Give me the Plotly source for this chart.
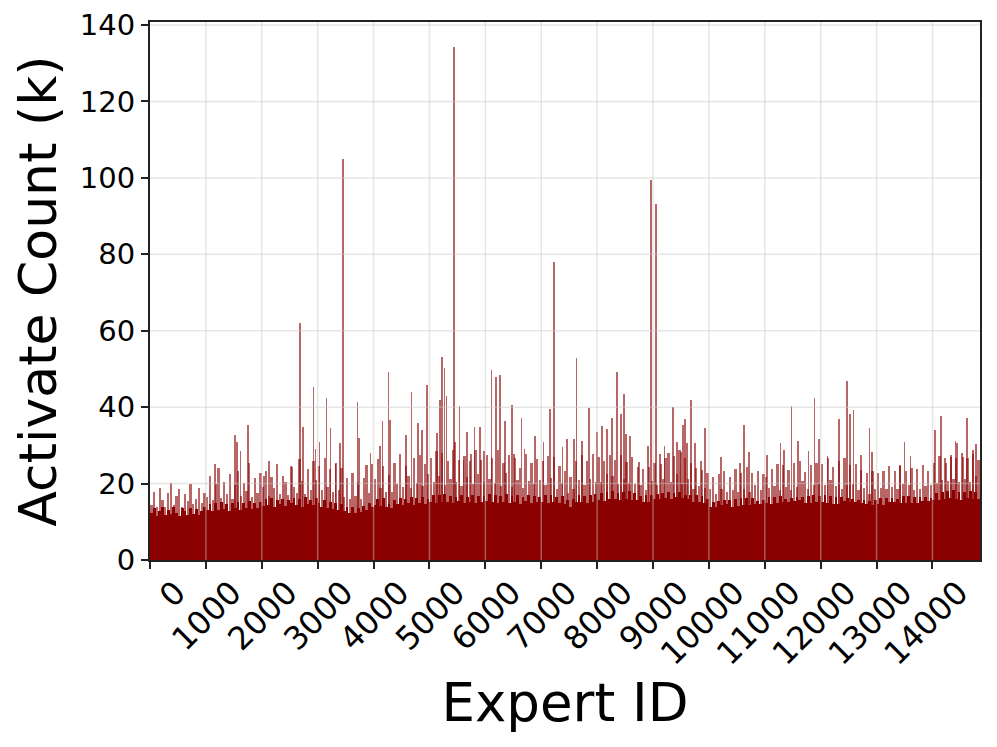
import plotly.graph_objects as go

# activation counts (k) per expert
# dense mass: 50-expert bins, solid level and light fringe top
bin_size = 50
n_experts = 14850

base_k = [
    12.3, 13.6, 11.5, 12.9, 14.0, 11.8, 13.2, 12.0, 13.9, 12.4, 11.6, 13.5, 12.8, 11.9, 13.7, 12.1, 13.4, 11.7, 12.9, 13.8,
    13.2, 14.6, 12.8, 14.9, 13.0, 15.3, 13.4, 14.6, 12.9, 15.0, 13.7, 15.2, 13.1, 14.8, 13.5, 15.4, 13.3, 14.9, 13.6, 15.1,
    14.1, 15.9, 14.4, 16.2, 13.9, 15.8, 14.6, 16.0, 14.2, 15.6, 14.8, 16.3, 14.5, 15.9, 14.0, 16.4, 14.7, 15.7, 14.3, 16.1,
    15.0, 13.9, 15.8, 13.6, 15.2, 13.4, 14.9, 13.1, 14.6, 12.7, 13.9, 12.4, 13.8, 12.2, 13.6, 12.5, 14.1, 13.2, 14.8, 13.9,
    14.4, 16.0, 14.1, 16.2, 13.8, 14.6, 13.6, 15.8, 14.6, 16.3, 14.5, 15.9, 14.8, 16.4, 14.3, 16.1, 14.9, 16.5, 14.7, 16.0,
    15.2, 16.9, 15.0, 17.1, 15.3, 17.2, 15.1, 16.8, 14.8, 16.6, 15.4, 16.9, 15.0, 16.5, 15.2, 17.0, 14.9, 16.8, 15.3, 16.7,
    15.4, 17.2, 15.1, 16.9, 14.8, 16.8, 15.2, 17.3, 14.9, 16.8, 15.3, 17.0, 14.7, 16.5, 15.4, 16.9, 15.0, 16.7, 15.1, 16.4,
    15.2, 16.9, 15.0, 17.1, 15.3, 16.5, 14.9, 16.8, 14.6, 15.8, 14.0, 15.9, 15.1, 17.0, 15.2, 16.8, 14.9, 16.9, 15.3, 17.2,
    15.7, 17.5, 15.5, 17.7, 15.9, 18.0, 15.9, 17.6, 15.6, 17.8, 16.0, 18.1, 15.8, 17.6, 15.6, 16.8, 15.1, 16.9, 15.3, 17.1,
    16.0, 17.4, 15.9, 17.6, 16.2, 17.9, 15.9, 17.5, 16.4, 17.8, 16.2, 17.0, 16.0, 16.9, 15.1, 16.9, 15.2, 16.8, 14.9, 15.9,
    13.9, 15.3, 14.0, 15.4, 14.4, 15.6, 14.6, 15.6, 13.8, 15.9, 14.2, 16.2, 14.4, 16.1, 14.3, 16.3, 14.6, 15.4, 14.7, 15.7,
    14.8, 16.5, 14.6, 16.6, 14.9, 16.8, 15.1, 16.0, 15.2, 16.3, 15.5, 16.5, 15.7, 16.6, 14.9, 16.7, 15.0, 17.0, 15.2, 16.8,
    15.2, 17.0, 14.9, 16.8, 14.7, 16.5, 14.6, 16.4, 15.5, 16.2, 15.3, 16.0, 15.1, 15.8, 14.9, 15.7, 14.7, 15.5, 14.5, 15.6,
    14.6, 16.3, 14.4, 16.2, 15.2, 16.1, 15.1, 16.0, 15.0, 16.8, 15.0, 16.7, 14.9, 16.6, 14.8, 16.5, 15.5, 16.4, 15.4, 16.3,
    15.6, 17.5, 15.8, 17.7, 15.9, 18.0, 16.2, 18.2, 16.0, 17.9, 15.8, 17.8, 16.1, 18.1, 15.9, 17.7, 16.0,
]

upper_k = [
    14.5, 17.8, 13.9, 18.9, 15.6, 13.8, 17.6, 20.1, 14.3, 16.7, 18.6, 14.0, 17.2, 15.4, 19.8, 14.6, 16.0, 18.9, 14.8, 17.5,
    16.5, 21.9, 15.8, 19.8, 24.0, 16.1, 20.3, 17.2, 22.6, 15.9, 19.5, 23.4, 16.8, 20.1, 18.0, 25.3, 16.4, 21.4, 17.6, 22.9,
    19.2, 23.4, 16.7, 21.8, 18.9, 25.1, 17.4, 22.0, 20.3, 16.9, 24.7, 19.1, 17.6, 26.4, 20.6, 17.3, 23.9, 18.2, 25.8, 20.9,
    24.6, 18.4, 26.8, 19.2, 23.9, 17.8, 25.5, 18.3, 24.1, 16.6, 21.4, 15.9, 22.8, 16.8, 20.4, 15.9, 21.5, 24.8, 17.6, 25.2,
    21.3, 26.5, 18.8, 24.6, 17.9, 22.2, 17.8, 25.4, 20.0, 27.7, 19.1, 24.6, 21.9, 18.9, 26.7, 20.2, 27.5, 19.4, 25.2, 22.5,
    26.8, 20.3, 28.4, 22.0, 27.9, 19.6, 25.8, 21.1, 28.9, 20.5, 26.2, 19.4, 27.3, 21.6, 25.8, 19.9, 28.7, 22.6, 26.1, 20.4,
    27.6, 21.1, 26.8, 20.2, 28.9, 19.4, 25.3, 22.8, 27.5, 19.0, 26.6, 21.0, 24.2, 18.9, 27.8, 20.6, 25.3, 19.8, 26.5, 20.9,
    25.8, 19.6, 27.2, 21.4, 26.9, 18.7, 24.5, 20.1, 23.3, 17.5, 21.8, 18.6, 26.0, 20.9, 27.4, 19.7, 25.9, 21.3, 27.7, 20.5,
    26.9, 20.4, 25.8, 22.6, 27.5, 21.9, 26.1, 19.8, 27.6, 21.2, 25.7, 20.2, 26.9, 19.8, 24.4, 19.6, 23.9, 18.3, 24.4, 20.7,
    25.4, 19.6, 27.8, 21.2, 26.6, 28.1, 20.5, 27.3, 22.4, 28.9, 20.0, 26.8, 21.1, 25.3, 18.7, 24.0, 19.4, 23.5, 18.8, 22.9,
    18.6, 21.8, 17.4, 22.5, 18.6, 23.3, 17.9, 21.8, 18.2, 23.9, 17.9, 22.8, 18.6, 24.4, 17.9, 22.9, 19.7, 23.4, 18.2, 22.5,
    21.6, 18.8, 23.9, 19.4, 25.1, 18.3, 24.9, 19.0, 23.6, 18.2, 25.5, 19.2, 26.0, 20.7, 23.1, 18.5, 24.8, 19.7, 25.4, 20.0,
    25.2, 19.6, 26.7, 20.9, 24.3, 19.4, 25.9, 18.6, 26.8, 19.5, 24.8, 20.0, 25.1, 18.4, 23.6, 18.9, 22.8, 17.3, 23.2, 18.6,
    22.8, 18.9, 23.4, 18.5, 24.6, 19.2, 23.3, 18.7, 24.8, 19.9, 23.4, 19.5, 24.0, 18.2, 23.9, 18.7, 24.8, 19.3, 23.4, 19.6,
    25.5, 20.2, 27.1, 21.0, 26.8, 20.6, 27.4, 21.2, 26.8, 20.5, 27.9, 21.2, 26.7, 20.5, 27.8, 21.9, 26.3,
]

# individual experts that stick out above the mass
spike_ids = [
    1160, 1516, 1560, 1620, 1755, 2040, 2125, 2545, 2685, 2733, 2924, 2960,
    3031, 3157, 3228, 3318, 3402, 3455, 3712, 3742, 3944,
    4112, 4159, 4267, 4297, 4583, 4678, 4798, 4864, 4953,
    5132, 5191, 5227, 5268, 5304, 5436, 5460, 5537, 5609, 5669, 5740, 5805, 5902, 5973,
    6110, 6193, 6260, 6349, 6474, 6516, 6647, 6701, 6886,
    7041, 7160, 7226, 7381, 7465, 7590, 7632, 7728, 7853, 7997,
    8086, 8176, 8271, 8355, 8432, 8474, 8516, 8581, 8742, 8903, 8963,
    9058, 9142, 9207, 9357, 9434, 9500, 9536, 9578, 9614, 9679, 9757, 9858, 9923,
    10209, 10556, 10634, 10718, 11034, 11279, 11345, 11476, 11589, 11780, 11887, 11976,
    12120, 12322, 12472, 12531, 12585, 12723, 12872, 12920,
    13414, 13498, 13606, 14047, 14154, 14237, 14334, 14410, 14441, 14549, 14621, 14728, 14782,
]
spike_k = [
    25, 32.7, 31, 28.5, 35.3, 22, 26, 24.4, 62, 34.8, 45.3, 29,
    31, 42.5, 34.6, 25, 30.6, 105, 41.3, 31.8, 28,
    29.8, 36.4, 49.2, 36.6, 32.8, 44, 35.9, 34.1, 45.8,
    33.2, 42, 53, 50.2, 42.8, 134.2, 31, 40.2, 26.2, 33.6, 27.7, 34.8, 34.8, 28.4,
    49.6, 47.8, 48.3, 36.4, 40.5, 27.7, 37.2, 29.1, 32.5,
    30.9, 39.5, 78, 29.5, 31.7, 31.7, 52.8, 31.2, 39.7, 33.5,
    35.1, 34.4, 37.2, 49.2, 38.1, 43.5, 32.9, 32.5, 25.6, 29.8, 99.5,
    93.2, 25.2, 29.8, 40, 30.9, 28.3, 35.3, 36.9, 30.6, 42, 30.6, 25.8, 34.6,
    27, 25.4, 35.3, 28.2, 27.5, 30.6, 28.8, 40.2, 31.2, 28.6, 42.5, 31.6,
    27.3, 36.9, 46.9, 38.1, 39.2, 27.6, 34.6, 28.3,
    24.7, 30.9, 27.2, 34, 37.6, 25.3, 27, 31.1, 30.5, 26.9, 37.1, 28.9, 30.4,
]

x_ticks = list(range(0, 15000, 1000))
y_ticks = [0, 20, 40, 60, 80, 100, 120, 140]

font = "DejaVu Sans"
dark = "#8b0000"
light = "rgba(139,0,0,0.6)"

bin_x = [i * bin_size + bin_size / 2 for i in range(len(base_k))]

fig = go.Figure()
fig.add_trace(go.Bar(x=bin_x, y=upper_k, width=bin_size * 0.8,
                     marker=dict(color=light, line=dict(width=0))))
fig.add_trace(go.Bar(x=bin_x, y=base_k, width=bin_size,
                     marker=dict(color=dark, line=dict(width=0))))
fig.add_trace(go.Bar(x=spike_ids, y=spike_k, width=32,
                     marker=dict(color=light, line=dict(width=0))))

# matplotlib-style grid drawn over the bars
grid = "rgba(200,200,200,0.45)"
shapes = []
for t in x_ticks[1:]:
    shapes.append(dict(type="line", xref="x", yref="paper", x0=t, x1=t, y0=0, y1=1,
                       line=dict(color=grid, width=1.5), layer="above"))
for t in y_ticks[1:]:
    shapes.append(dict(type="line", xref="paper", yref="y", x0=0, x1=1, y0=t, y1=t,
                       line=dict(color=grid, width=1.5), layer="above"))

# page body adds an 8px offset, so the figure is 8px smaller
fig.update_layout(
    width=989, height=739,
    margin=dict(l=142, r=17, t=14, b=187),
    paper_bgcolor="white", plot_bgcolor="white",
    barmode="overlay", bargap=0,
    showlegend=False,
    shapes=shapes,
    font=dict(family=font, color="black"),
)
fig.update_xaxes(
    range=[0, n_experts],
    tickvals=x_ticks, ticktext=[str(t) for t in x_ticks],
    tickangle=-45, ticklabelshift=26, ticklabelstandoff=-8,
    tickfont=dict(size=32, family=font),
    ticks="outside", ticklen=7, tickwidth=1.5, tickcolor="#222",
    showgrid=False, zeroline=False,
    showline=True, linecolor="#222", linewidth=2, mirror=True,
    title=dict(text="Expert ID", font=dict(size=53, family=font), standoff=6),
    automargin=False,
)
fig.update_yaxes(
    range=[0, 140.8],
    tickvals=y_ticks,
    tickfont=dict(size=29, family=font),
    ticks="outside", ticklen=7, tickwidth=1.5, tickcolor="#222",
    showgrid=False, zeroline=False,
    showline=True, linecolor="#222", linewidth=2, mirror=True,
    title=dict(text="Activate Count (k)", font=dict(size=52, family=font), standoff=10),
    automargin=False,
)

fig.write_html("out.html")
